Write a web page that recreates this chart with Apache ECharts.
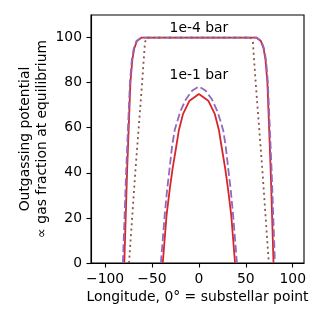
<!DOCTYPE html>
<html>
<head>
<meta charset="utf-8">
<script src="https://cdn.jsdelivr.net/npm/echarts@6/dist/echarts.min.js"></script>
<style>
  html, body { margin: 0; padding: 0; background: #fff; }
  #chart { width: 322px; height: 322px; }
</style>
</head>
<body>
<div id="chart"></div>
<script>
// 1e-4 bar curves
var lowRedLon = [-79.5, -76.5, -73, -71, -69, -66, -61, 61, 66, 69, 71, 73, 76.5, 79.5];
var lowRedVal = [0, 41, 80, 90, 95, 98.5, 100, 100, 98.5, 95, 90, 80, 41, 0];
var lowPurpleLon = [-81, -77.5, -73.5, -71.5, -69.5, -66.5, -61.5, 61.5, 66.5, 69.5, 71.5, 73.5, 77.5, 81];
var lowPurpleVal = [0, 41, 80, 90, 95, 98.5, 100, 100, 98.5, 95, 90, 80, 41, 0];
var lowBrownLon = [-74.5, -67.5, -60.5, -57.5, -55, 55, 57.5, 60.5, 67.5, 74.5];
var lowBrownVal = [0, 42, 80, 98, 100, 100, 98, 80, 42, 0];

// 1e-1 bar curves
var highRedLon = [-38.5, -34.5, -31, -28, -24, -21.3, -17, -10, 0, 10, 17, 21.3, 24, 28, 31, 34.5, 38.5];
var highRedVal = [0, 21, 33, 42, 52, 59, 66, 72, 75, 72, 66, 59, 52, 42, 33, 21, 0];
var highPurpleLon = [-40.5, -36.5, -34, -31.5, -28.5, -25.8, -20, -14, -7, 0, 7, 14, 20, 25.8, 28.5, 31.5, 34, 36.5, 40.5];
var highPurpleVal = [0, 21, 32, 41, 52, 59, 67, 72.5, 76.5, 78.3, 76.5, 72.5, 67, 59, 52, 41, 32, 21, 0];

var xTicks = [-100, -50, 0, 50, 100];
var yTicks = [0, 20, 40, 60, 80, 100];
var notes = [[0, 104.2, '1e-4 bar'], [0, 83, '1e-1 bar']];

function pairs(xs, ys) {
  return xs.map(function (x, i) { return [x, ys[i]]; });
}

var font = 'DejaVu Sans';
var chart = echarts.init(document.getElementById('chart'));

function line(name, xs, ys, color, type) {
  return {
    name: name,
    type: 'line',
    data: pairs(xs, ys),
    showSymbol: false,
    symbol: 'none',
    lineStyle: { color: color, width: 1.8, type: type, cap: 'butt' },
    animation: false
  };
}

chart.setOption({
  animation: false,
  textStyle: { fontFamily: font, color: '#000' },
  grid: {
    left: 91, top: 15, width: 213, height: 248,
    show: true, borderColor: '#000', borderWidth: 1.1, backgroundColor: 'transparent'
  },
  xAxis: {
    type: 'value',
    min: -115,
    max: 112,
    name: 'Longitude, 0° = substellar point',
    nameLocation: 'middle',
    nameGap: 27,
    nameMoveOverlap: false,
    nameTextStyle: { fontSize: 13.9, color: '#000', fontFamily: font },
    axisLine: { onZero: false, lineStyle: { color: '#000', width: 1.1 } },
    axisTick: { customValues: xTicks, length: 4.5, lineStyle: { color: '#000', width: 1.1 } },
    axisLabel: {
      customValues: xTicks, fontSize: 13.9, color: '#000', margin: 9, fontFamily: font,
      formatter: function (v) { return String(v).replace('-', '\u2212'); }
    },
    splitLine: { show: false }
  },
  yAxis: {
    type: 'value',
    min: 0,
    max: 110,
    name: 'Outgassing potential\n\u221d gas fraction at equilibrium',
    nameLocation: 'middle',
    nameGap: 40,
    nameMoveOverlap: false,
    nameRotate: 90,
    nameTextStyle: { fontSize: 13.9, color: '#000', lineHeight: 17, fontFamily: font },
    axisLine: { onZero: false, lineStyle: { color: '#000', width: 1.1 } },
    axisTick: { customValues: yTicks, length: 4.5, lineStyle: { color: '#000', width: 1.1 } },
    axisLabel: { customValues: yTicks, fontSize: 13.9, color: '#000', margin: 9, fontFamily: font },
    splitLine: { show: false }
  },
  series: [
    line('1e-4 red', lowRedLon, lowRedVal, '#d62728', 'solid'),
    line('1e-4 purple', lowPurpleLon, lowPurpleVal, '#9467bd', [7.7, 3.3]),
    line('1e-4 brown', lowBrownLon, lowBrownVal, '#8c564b', [2, 3.4]),
    line('1e-1 red', highRedLon, highRedVal, '#d62728', 'solid'),
    line('1e-1 purple', highPurpleLon, highPurpleVal, '#9467bd', [7.7, 3.3]),
    {
      type: 'scatter',
      data: notes,
      symbolSize: 0,
      silent: true,
      itemStyle: { opacity: 1 },
      label: {
        show: true,
        position: 'inside',
        formatter: function (p) { return p.data[2]; },
        fontSize: 13.9,
        color: '#000',
        opacity: 1,
        fontFamily: font
      }
    }
  ]
});
</script>
</body>
</html>
